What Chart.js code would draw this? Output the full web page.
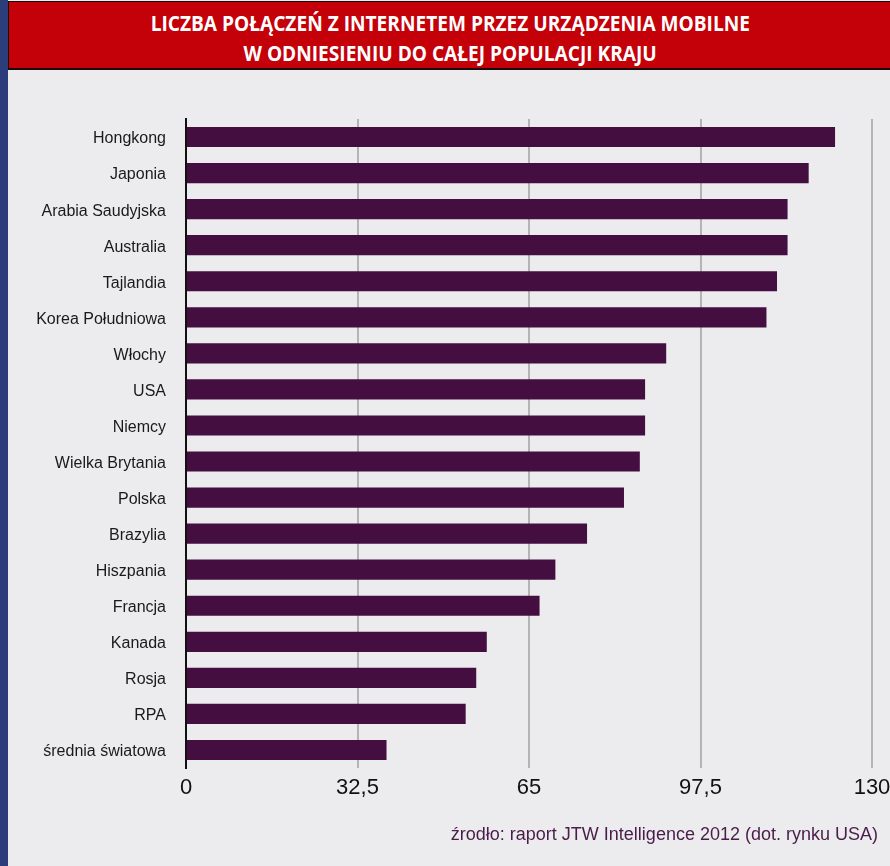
<!DOCTYPE html>
<html>
<head>
<meta charset="utf-8">
<script src="https://cdn.jsdelivr.net/npm/chart.js@4/dist/chart.umd.min.js"></script>
<style>
  html, body { margin: 0; padding: 0; }
  body { width: 890px; height: 866px; background: #ececee; position: relative; overflow: hidden; }
  #strip { position: absolute; left: 0; top: 0; width: 8px; height: 866px; background: #2c3e7a; }
  #head {
    position: absolute; left: 8px; top: 1px; width: 882px; height: 60px;
    background: #c40008; border: 1px solid #1a0a0a; border-bottom-width: 2px; border-right: none;
    color: #fff; text-align: center;
    font-family: "Open Sans", sans-serif; font-weight: bold;
    font-size: 21px; line-height: 30px; padding-top: 6px;
  }
  #head span { display: inline-block; transform: scaleX(0.91); white-space: nowrap; }
  #wrap { position: absolute; left: 0; top: 0; width: 890px; height: 866px; }
  #src {
    position: absolute; right: 12px; top: 824px;
    font-family: "Liberation Sans", Arial, sans-serif; font-size: 18px; color: #4a1c4a;
  }
</style>
</head>
<body>
<div id="strip"></div>
<div id="wrap"><canvas id="chart" width="890" height="866"></canvas></div>
<div id="head"><span>LICZBA POŁĄCZEŃ Z INTERNETEM PRZEZ URZĄDZENIA MOBILNE</span><br><span>W ODNIESIENIU DO CAŁEJ POPULACJI KRAJU</span></div>
<div id="src">źrodło: raport JTW Intelligence 2012 (dot. rynku USA)</div>
<script>
const countries = ["Hongkong", "Japonia", "Arabia Saudyjska", "Australia", "Tajlandia",
    "Korea Południowa", "Włochy", "USA", "Niemcy", "Wielka Brytania", "Polska",
    "Brazylia", "Hiszpania", "Francja", "Kanada", "Rosja", "RPA", "średnia światowa"];
const connections = [123, 118, 114, 114, 112, 110, 91, 87, 87, 86, 83, 76, 70, 67, 57, 55, 53, 38];
const xTicks = [0, 32.5, 65, 97.5, 130];

new Chart(document.getElementById("chart").getContext('2d'), {
    type: 'bar',
    data: {
        labels: countries,
        datasets: [{
            data: connections,
            backgroundColor: "#440e41",
            categoryPercentage: 1,
            barPercentage: 0.56
        }]
    },
    options: {
        indexAxis: 'y',
        responsive: false,
        animation: false,
        layout: { padding: { left: 8, right: 18, top: 119, bottom: 0 } },
        plugins: { legend: { display: false }, tooltip: { enabled: false } },
        scales: {
            x: {
                min: 0,
                max: 130,
                afterBuildTicks: function (axis) {
                    axis.ticks = xTicks.map(v => ({ value: v }));
                },
                afterFit: function (axis) {
                    axis.height = 98;
                    axis.paddingLeft = 0;
                    axis.paddingRight = 0;
                },
                ticks: {
                    padding: 7,
                    color: "#111",
                    font: { family: "'Liberation Sans', Arial", size: 22 },
                    callback: v => String(v).replace('.', ',')
                },
                grid: {
                    drawTicks: false,
                    lineWidth: 2,
                    color: ctx => ctx.index === 0 ? 'rgba(0,0,0,0)' : '#b4b4b6'
                },
                border: { display: false }
            },
            y: {
                afterFit: function (axis) { axis.width = 178; },
                ticks: {
                    padding: 20,
                    labelOffset: 2,
                    color: "#1a1a1a",
                    font: { family: "'Liberation Sans', Arial", size: 16 }
                },
                grid: { display: false, drawTicks: false },
                border: { display: true, color: "#111", width: 2 }
            }
        }
    }
});
</script>
</body>
</html>
